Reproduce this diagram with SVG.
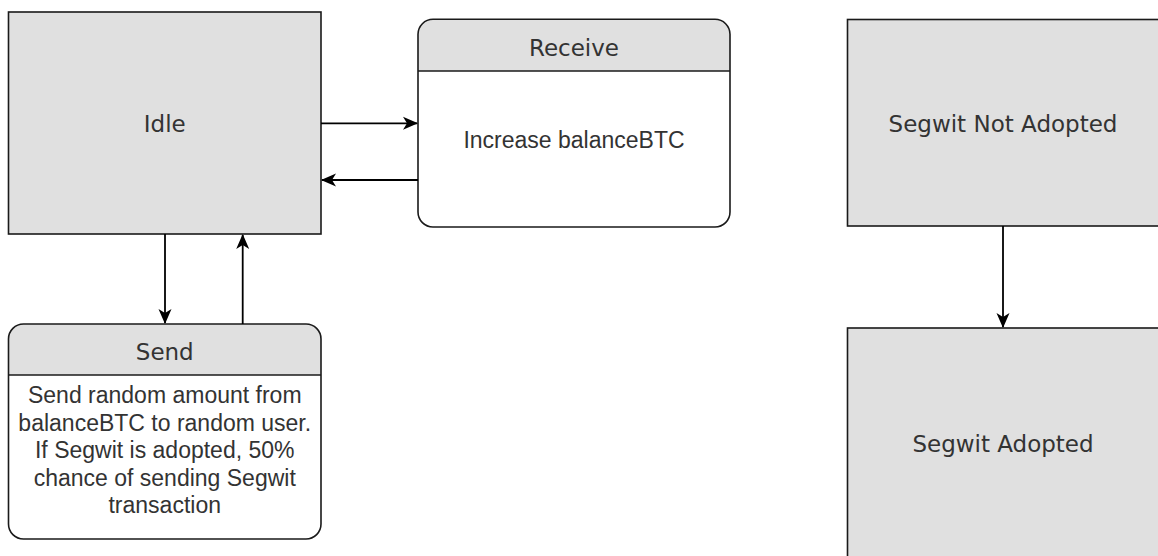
<svg xmlns="http://www.w3.org/2000/svg" width="1158" height="556" viewBox="0 0 1158 556">
  <style>
    .box { fill: #e0e0e0; stroke: #1a1a1a; stroke-width: 1.6; }
    .hdr { fill: #e0e0e0; stroke: none; }
    .body { fill: #fff; stroke: none; }
    .outline { fill: none; stroke: #1a1a1a; stroke-width: 1.6; }
    .div { stroke: #1a1a1a; stroke-width: 1.6; }
    .title { font-family: "DejaVu Sans", Verdana, sans-serif; font-size: 23px; fill: #333; text-anchor: middle; }
    .txt { font-family: "Liberation Sans", Arial, sans-serif; font-size: 23px; fill: #333; text-anchor: middle; }
    .edge { fill: none; stroke: #000; stroke-width: 1.8; }
  </style>
  <defs>
    <marker id="arr" markerUnits="userSpaceOnUse" markerWidth="18" markerHeight="16" viewBox="-16 -8 18 16" refX="0" refY="0" orient="auto">
      <path d="M1,0 L-14,-6.5 L-10,0 L-14,6.5 Z" fill="#000"/>
    </marker>
  </defs>
  <rect width="1158" height="556" fill="#fff"/>

  <g id="idle">
    <rect class="box" x="8.5" y="12" width="312.5" height="222"/>
    <text class="title" x="164.75" y="132">Idle</text>
  </g>

  <g id="receive">
    <path class="hdr" d="M418,71 V34.3 A15,15 0 0 1 433,19.3 H715 A15,15 0 0 1 730,34.3 V71 Z"/>
    <path class="body" d="M418,71 H730 V212 A15,15 0 0 1 715,227 H433 A15,15 0 0 1 418,212 Z"/>
    <rect class="outline" x="418" y="19.3" width="312" height="207.7" rx="15" ry="15"/>
    <line class="div" x1="418" y1="71" x2="730" y2="71"/>
    <text class="title" x="574" y="55.5">Receive</text>
    <text class="txt" x="574" y="148">Increase balanceBTC</text>
  </g>

  <g id="send">
    <path class="hdr" d="M8.5,375 V339 A15,15 0 0 1 23.5,324 H306 A15,15 0 0 1 321,339 V375 Z"/>
    <path class="body" d="M8.5,375 H321 V524 A15,15 0 0 1 306,539 H23.5 A15,15 0 0 1 8.5,524 Z"/>
    <rect class="outline" x="8.5" y="324" width="312.5" height="215" rx="15" ry="15"/>
    <line class="div" x1="8.5" y1="375" x2="321" y2="375"/>
    <text class="title" x="164.75" y="360">Send</text>
    <text class="txt" x="164.75" y="403">Send random amount from</text>
    <text class="txt" x="164.75" y="430.5">balanceBTC to random user.</text>
    <text class="txt" x="164.75" y="458">If Segwit is adopted, 50%</text>
    <text class="txt" x="164.75" y="485.5">chance of sending Segwit</text>
    <text class="txt" x="164.75" y="513">transaction</text>
  </g>

  <g id="segwit-not-adopted">
    <rect class="box" x="847.5" y="19.5" width="312" height="206.5"/>
    <text class="title" x="1003" y="131.7">Segwit Not Adopted</text>
  </g>

  <g id="segwit-adopted">
    <rect class="box" x="847.5" y="328" width="312" height="232"/>
    <text class="title" x="1003" y="452">Segwit Adopted</text>
  </g>

  <g id="connectors">
    <path class="edge" d="M321,123.3 H417" marker-end="url(#arr)"/>
    <path class="edge" d="M418,180 H322" marker-end="url(#arr)"/>
    <path class="edge" d="M165,234 V323" marker-end="url(#arr)"/>
    <path class="edge" d="M242.7,324 V235" marker-end="url(#arr)"/>
    <path class="edge" d="M1003,226 V327" marker-end="url(#arr)"/>
  </g>
</svg>
